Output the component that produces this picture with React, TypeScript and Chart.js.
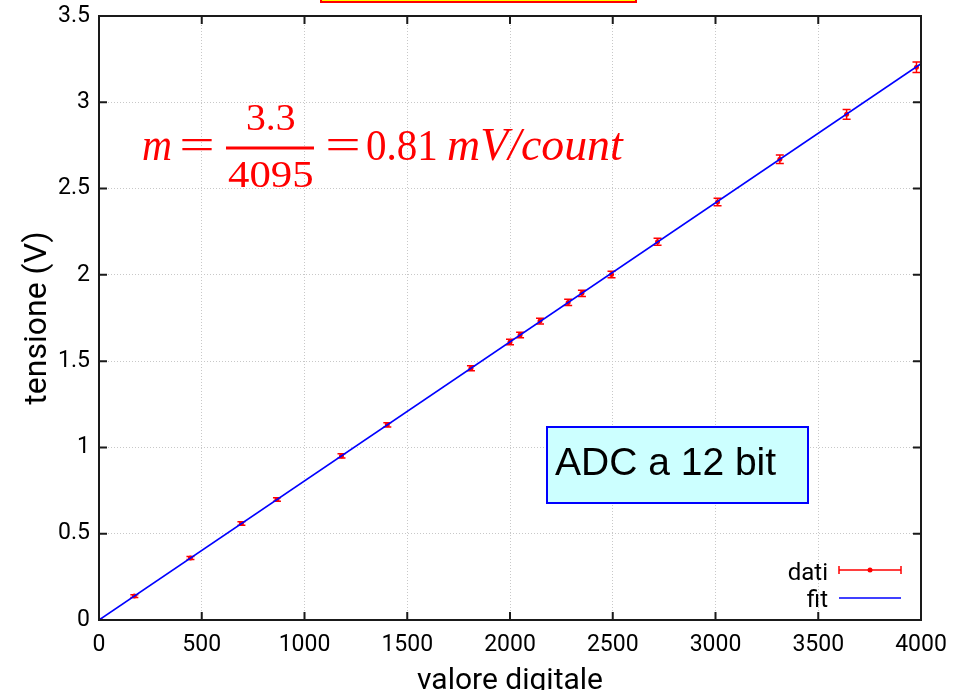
import React, { useEffect, useRef } from 'react';
import { Chart, registerables } from 'chart.js';

Chart.register(...registerables);

// ---- data ----
const digitalValues = [0, 172, 445, 693, 866, 1180, 1403, 1810, 2000, 2049, 2146, 2283, 2350, 2494, 2718, 3010, 3313, 3638, 3978];
const voltages = [0, 0.139, 0.359, 0.559, 0.698, 0.951, 1.131, 1.459, 1.611, 1.651, 1.732, 1.840, 1.893, 2.002, 2.192, 2.422, 2.670, 2.930, 3.203];
const voltageErrors = [0.005, 0.008, 0.009, 0.010, 0.010, 0.012, 0.012, 0.014, 0.016, 0.016, 0.017, 0.018, 0.018, 0.019, 0.020, 0.022, 0.025, 0.028, 0.030];
const fitSlope = 3.3 / 4095;
const xTicks = [0, 500, 1000, 1500, 2000, 2500, 3000, 3500, 4000];
const yTicks = [0, 0.5, 1, 1.5, 2, 2.5, 3, 3.5];
const legendLabels = ['dati', 'fit'];
const boxLabel = 'ADC a 12 bit';
const xTitle = 'valore digitale';
const yTitle = 'tensione (V)';

const RED = '#ff0000';
const BLUE = '#0000ff';

function fitText(ctx: CanvasRenderingContext2D, text: string, font: string, x0: number, x1: number, baseline: number) {
  ctx.save();
  ctx.font = font;
  const m = ctx.measureText(text);
  const inkW = m.actualBoundingBoxLeft + m.actualBoundingBoxRight;
  const s = (x1 - x0) / inkW;
  ctx.translate(x0 + m.actualBoundingBoxLeft * s, baseline);
  ctx.scale(s, 1);
  ctx.textAlign = 'left';
  ctx.textBaseline = 'alphabetic';
  ctx.fillText(text, 0, 0);
  ctx.restore();
}

const decorPlugin = {
  id: 'decor',
  beforeDatasetsDraw(chart: any) {
    const { ctx, chartArea } = chart;
    const xs = chart.scales.x;
    const ys = chart.scales.y;
    ctx.save();
    ctx.beginPath();
    ctx.rect(chartArea.left, chartArea.top, chartArea.right - chartArea.left, chartArea.bottom - chartArea.top);
    ctx.clip();
    ctx.strokeStyle = RED;
    ctx.lineWidth = 1.5;
    digitalValues.forEach((d, i) => {
      const px = xs.getPixelForValue(d);
      const pt = ys.getPixelForValue(voltages[i] + voltageErrors[i]);
      const pb = ys.getPixelForValue(voltages[i] - voltageErrors[i]);
      ctx.beginPath();
      ctx.moveTo(px, pt);
      ctx.lineTo(px, pb);
      ctx.moveTo(px - 4, pt);
      ctx.lineTo(px + 4, pt);
      ctx.moveTo(px - 4, pb);
      ctx.lineTo(px + 4, pb);
      ctx.stroke();
    });
    ctx.restore();
  },
  afterDraw(chart: any) {
    const { ctx, chartArea } = chart;
    const { left, right, top, bottom } = chartArea;
    const xs = chart.scales.x;
    const ys = chart.scales.y;
    ctx.save();

    // top (cut) title box
    ctx.fillStyle = '#ffff00';
    ctx.fillRect(321, -10, 315, 12);
    ctx.strokeStyle = RED;
    ctx.lineWidth = 2;
    ctx.strokeRect(321, -10, 315, 12);

    // text box
    ctx.fillStyle = '#ccffff';
    ctx.fillRect(547, 427, 261, 76);
    ctx.strokeStyle = BLUE;
    ctx.lineWidth = 2;
    ctx.strokeRect(547, 427, 261, 76);
    ctx.fillStyle = '#000000';
    ctx.font = "39px 'Liberation Sans'";
    ctx.textAlign = 'left';
    ctx.textBaseline = 'alphabetic';
    ctx.fillText(boxLabel, 555, 475);

    // formula
    ctx.fillStyle = RED;
    const serif = "'Liberation Serif'";
    fitText(ctx, 'm', `italic 46px ${serif}`, 143, 171, 160);
    fitText(ctx, '=', `44px ${serif}`, 182, 212, 159);
    fitText(ctx, '3.3', `37px ${serif}`, 247, 295, 130);
    ctx.fillRect(226, 146.5, 88, 3);
    fitText(ctx, '4095', `37px ${serif}`, 228, 313, 187);
    fitText(ctx, '=', `44px ${serif}`, 328, 358, 159);
    fitText(ctx, '0.81', `44px ${serif}`, 367, 436, 160);
    fitText(ctx, 'mV/count', `italic 46px ${serif}`, 448, 624, 160);

    // legend
    ctx.fillStyle = '#000000';
    ctx.font = "24px Roboto";
    ctx.textAlign = 'right';
    ctx.textBaseline = 'alphabetic';
    ctx.fillText(legendLabels[0], 828, 580);
    ctx.fillText(legendLabels[1], 828, 607);
    ctx.strokeStyle = RED;
    ctx.lineWidth = 1.5;
    ctx.beginPath();
    ctx.moveTo(839, 570);
    ctx.lineTo(901, 570);
    ctx.moveTo(839, 566);
    ctx.lineTo(839, 574);
    ctx.moveTo(901, 566);
    ctx.lineTo(901, 574);
    ctx.stroke();
    ctx.fillStyle = RED;
    ctx.beginPath();
    ctx.arc(870, 570, 2.5, 0, Math.PI * 2);
    ctx.fill();
    ctx.strokeStyle = BLUE;
    ctx.beginPath();
    ctx.moveTo(839, 598);
    ctx.lineTo(901, 598);
    ctx.stroke();

    // frame and inward ticks
    ctx.strokeStyle = '#1a1a1a';
    ctx.lineWidth = 2;
    ctx.strokeRect(left, top, right - left, bottom - top);
    ctx.beginPath();
    xTicks.forEach((v) => {
      const px = xs.getPixelForValue(v);
      ctx.moveTo(px, bottom);
      ctx.lineTo(px, bottom - 8);
      ctx.moveTo(px, top);
      ctx.lineTo(px, top + 8);
    });
    yTicks.forEach((v) => {
      const py = ys.getPixelForValue(v);
      ctx.moveTo(left, py);
      ctx.lineTo(left + 8, py);
      ctx.moveTo(right, py);
      ctx.lineTo(right - 8, py);
    });
    ctx.stroke();
    ctx.restore();
  },
};

export default function App() {
  const canvasRef = useRef<HTMLCanvasElement | null>(null);

  useEffect(() => {
    if (!canvasRef.current) return;
    const points = digitalValues.map((d, i) => ({ x: d, y: voltages[i] }));
    const fitX = [xTicks[0], xTicks[xTicks.length - 1]];
    const fitPoints = fitX.map((x) => ({ x, y: fitSlope * x }));

    const chart = new Chart(canvasRef.current, {
      type: 'scatter',
      data: {
        datasets: [
          {
            label: legendLabels[1],
            type: 'line',
            data: fitPoints,
            borderColor: BLUE,
            borderWidth: 1.6,
            pointRadius: 0,
            fill: false,
          } as any,
          {
            label: legendLabels[0],
            data: points,
            backgroundColor: RED,
            borderColor: RED,
            pointRadius: 2.5,
            pointBorderWidth: 0,
          },
        ],
      },
      options: {
        animation: false,
        responsive: false,
        layout: { padding: { top: 16, right: 47, left: 0, bottom: 0 } },
        plugins: {
          legend: { display: false },
          tooltip: { enabled: false },
        },
        scales: {
          x: {
            type: 'linear',
            min: 0,
            max: 4000,
            afterBuildTicks: (s: any) => {
              s.ticks = xTicks.map((v) => ({ value: v }));
            },
            ticks: {
              callback: (v: any) => String(v),
              color: '#000000',
              font: { family: 'Roboto', size: 23 },
              padding: 11,
              maxRotation: 0,
            },
            grid: { color: '#c8c8c8', lineWidth: 1, drawTicks: false },
            border: { display: false, dash: [1, 2] },
            title: {
              display: true,
              text: xTitle,
              color: '#000000',
              font: { family: 'Roboto', size: 30, lineHeight: 0.6 },
              padding: 0,
            },
            afterFit: (s: any) => {
              s.height = 70;
            },
          },
          y: {
            type: 'linear',
            min: 0,
            max: 3.5,
            afterBuildTicks: (s: any) => {
              s.ticks = yTicks.map((v) => ({ value: v }));
            },
            ticks: {
              callback: (v: any) => String(v),
              color: '#000000',
              font: { family: 'Roboto', size: 23 },
              padding: 9,
            },
            grid: { color: '#c8c8c8', lineWidth: 1, drawTicks: false },
            border: { display: false, dash: [1, 2] },
            title: {
              display: true,
              text: yTitle,
              color: '#000000',
              font: { family: 'Roboto', size: 32 },
              padding: { top: 19, bottom: 0 },
            },
            afterFit: (s: any) => {
              s.width = 99;
              s.paddingTop = 0;
              s.paddingBottom = 0;
            },
          },
        },
      },
      plugins: [decorPlugin],
    });
    return () => chart.destroy();
  }, []);

  return (
    <div style={{ position: 'absolute', left: 0, top: 0, width: 968, height: 690, background: '#ffffff' }}>
      <canvas ref={canvasRef} width={968} height={690} style={{ width: 968, height: 690, display: 'block' }} />
    </div>
  );
}
